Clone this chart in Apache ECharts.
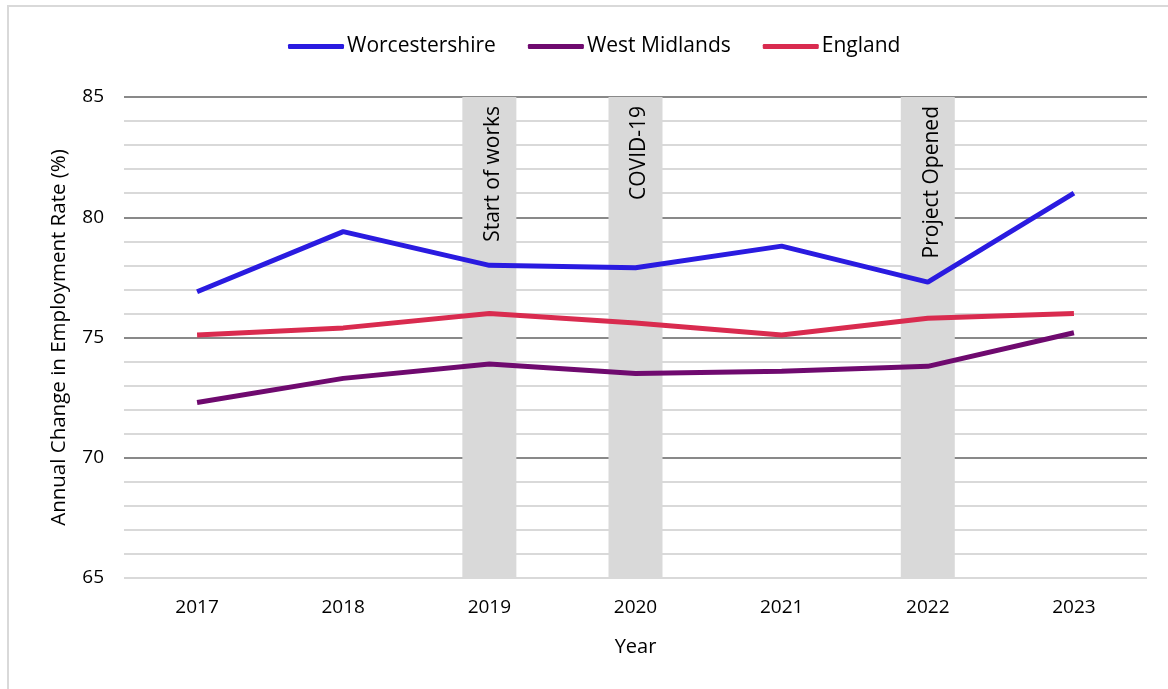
<!DOCTYPE html>
<html>
<head>
<meta charset="utf-8">
<script src="https://cdn.jsdelivr.net/npm/echarts@6/dist/echarts.min.js"></script>
<style>
	html, body { margin: 0; padding: 0; background: #fff; }
	#chart { width: 1168px; height: 689px; }
</style>
</head>
<body>
<div id="chart"></div>
<script>
var years = ['2017', '2018', '2019', '2020', '2021', '2022', '2023'] ;
var worcestershire = [76.9, 79.4, 78.0, 77.9, 78.8, 77.3, 81.0] ;
var westMidlands = [72.3, 73.3, 73.9, 73.5, 73.6, 73.8, 75.2] ;
var england = [75.1, 75.4, 76.0, 75.6, 75.1, 75.8, 76.0] ;
// grey event bands, drawn as bars up to the top of the axis
var eventBands = [null, null, 85, 85, null, 85, null] ;
var eventLabels = ['', '', 'Start of works', 'COVID-19', '', 'Project Opened', ''] ;

var FONT = 'Open Sans' ;

function initChart()
{
	var bandData = [] ;
	for( var i = 0 ; i < eventBands.length ; i++ )
	{
		bandData.push({ value: eventBands[i], name: eventLabels[i] }) ;
	}

	var option = {
		backgroundColor: '#fff',
		animation: false,
		textStyle: { fontFamily: FONT },
		graphic: [{
			type: 'rect',
			shape: { x: 8, y: 6, width: 1200, height: 720 },
			style: { fill: 'none', stroke: '#d9d9d9', lineWidth: 2 },
			silent: true
		}],
		grid: { left: 124, right: 21, top: 97, bottom: 111 },
		legend: {
			data: ['Worcestershire', 'West Midlands', 'England'],
			left: 283,
			top: 31,
			icon: 'roundRect',
			itemWidth: 56,
			itemHeight: 5,
			itemGap: 32,
			textStyle: { fontFamily: FONT, fontSize: 21, color: '#000', padding: [0, 0, 0, -2] }
		},
		xAxis: {
			type: 'category',
			data: years,
			name: 'Year',
			nameLocation: 'middle',
			nameGap: 59,
			nameTextStyle: { fontSize: 20, color: '#000' },
			axisLine: { show: false },
			axisTick: { show: false },
			axisLabel: { fontSize: 19, color: '#000', margin: 20 }
		},
		yAxis: {
			type: 'value',
			min: 65,
			max: 85,
			interval: 5,
			name: 'Annual Change in Employment Rate (%)',
			nameLocation: 'middle',
			nameGap: 54,
			nameTextStyle: { fontSize: 20.5, color: '#000' },
			axisLine: { show: false },
			axisTick: { show: false },
			axisLabel: { fontSize: 19, color: '#000', margin: 20 },
			splitLine: { lineStyle: { color: ['#d9d9d9', '#898989', '#898989', '#898989', '#898989'], width: 2 } },
			minorTick: { show: false, splitNumber: 5 },
			minorSplitLine: { show: true, lineStyle: { color: '#d9d9d9', width: 2 } }
		},
		series: [
			{
				name: 'events',
				type: 'bar',
				data: bandData,
				barWidth: 54,
				itemStyle: { color: '#d9d9d9' },
				silent: true,
				z: 1,
				label: {
					show: true,
					position: 'insideTop',
					distance: 9,
					rotate: 90,
					align: 'right',
					verticalAlign: 'middle',
					offset: [0, 4],
					fontSize: 21,
					color: '#000',
					formatter: function (p) { return p.name ; }
				}
			},
			{
				name: 'Worcestershire',
				type: 'line',
				data: worcestershire,
				symbol: 'none',
				lineStyle: { color: '#2a1be0', width: 5 },
				itemStyle: { color: '#2a1be0' },
				z: 3
			},
			{
				name: 'West Midlands',
				type: 'line',
				data: westMidlands,
				symbol: 'none',
				lineStyle: { color: '#6f0a6f', width: 5 },
				itemStyle: { color: '#6f0a6f' },
				z: 3
			},
			{
				name: 'England',
				type: 'line',
				data: england,
				symbol: 'none',
				lineStyle: { color: '#d92b4f', width: 5 },
				itemStyle: { color: '#d92b4f' },
				z: 3
			}
		]
	};
	var myChart = echarts.init( document.getElementById('chart') );
	myChart.setOption(option);
}

initChart() ;
</script>
</body>
</html>
